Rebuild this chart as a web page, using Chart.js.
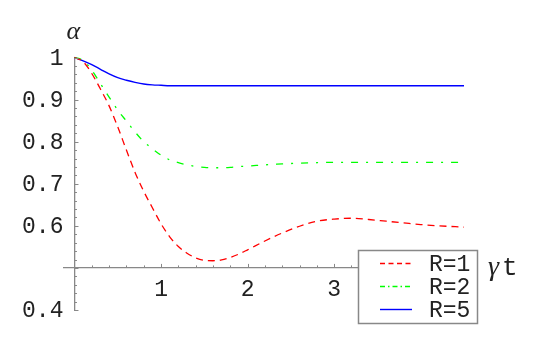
<!DOCTYPE html>
<html>
<head>
<meta charset="utf-8">
<script src="https://cdn.jsdelivr.net/npm/chart.js@4"></script>
<style>
  html, body { margin: 0; padding: 0; background: #fff; }
  #wrap { width: 554px; height: 342px; position: relative; }
</style>
</head>
<body>
<div id="wrap"><canvas id="chart"></canvas></div>
<script>
// time axis (gamma t) and the three curves
const tValues = [0, 0.1, 0.2, 0.3, 0.4, 0.5, 0.6, 0.7, 0.8, 0.9, 1.0, 1.1, 1.2, 1.3, 1.4, 1.5, 1.6, 1.7, 1.8, 1.9, 2.0, 2.2, 2.4, 2.6, 2.8, 3.0, 3.2, 3.4, 3.6, 3.8, 4.0, 4.2, 4.4, 4.5];
const alphaR1 = [1, 0.99, 0.962, 0.925, 0.885, 0.835, 0.78, 0.727, 0.682, 0.643, 0.605, 0.574, 0.551, 0.535, 0.524, 0.518, 0.517, 0.519, 0.525, 0.533, 0.543, 0.564, 0.583, 0.599, 0.611, 0.616, 0.618, 0.615, 0.611, 0.607, 0.603, 0.600, 0.598, 0.597];
const alphaR2 = [1, 0.993, 0.97, 0.938, 0.906, 0.875, 0.849, 0.823, 0.8, 0.783, 0.768, 0.757, 0.75, 0.745, 0.741, 0.739, 0.738, 0.738, 0.739, 0.741, 0.742, 0.745, 0.747, 0.749, 0.75, 0.751, 0.751, 0.751, 0.751, 0.751, 0.751, 0.751, 0.751, 0.751];
const alphaR5 = [1, 0.992, 0.983, 0.972, 0.961, 0.952, 0.946, 0.941, 0.937, 0.935, 0.934, 0.933, 0.933, 0.933, 0.933, 0.933, 0.933, 0.933, 0.933, 0.933, 0.933, 0.933, 0.933, 0.933, 0.933, 0.933, 0.933, 0.933, 0.933, 0.933, 0.933, 0.933, 0.933, 0.933];
const seriesLabels = ['R=1', 'R=2', 'R=5'];
const xTickValues = [1, 2, 3, 4];
const yTickValues = [0.4, 0.6, 0.7, 0.8, 0.9, 1];

const axisColor = '#888888';
const textColor = '#222';
const tickFont = { family: 'Liberation Mono', size: 23 };

function toPoints(ys) {
  return tValues.map((t, i) => ({ x: t, y: ys[i] }));
}

function yLabel(v) {
  return v === 1 ? '1' : v.toFixed(1);
}

// Mathematica style tick marks pointing into the plot, plus the y labels
const tickMarks = {
  id: 'tickMarks',
  afterDraw(chart) {
    const { ctx, scales: { x, y } } = chart;
    const x0 = x.getPixelForValue(0);
    const y0 = y.getPixelForValue(0.5);
    ctx.save();
    ctx.strokeStyle = axisColor;
    ctx.lineWidth = 1;
    for (let i = 1; i <= 22; i++) {
      const px = Math.round(x.getPixelForValue(i * 0.2)) + 0.5;
      const len = (i % 5 === 0) ? 4 : 2.5;
      ctx.beginPath();
      ctx.moveTo(px, y0);
      ctx.lineTo(px, y0 - len);
      ctx.stroke();
    }
    for (let i = 0; i <= 30; i++) {
      const py = Math.round(y.getPixelForValue(0.4 + i * 0.02)) + 0.5;
      const len = (i % 5 === 0) ? 4 : 2.5;
      ctx.beginPath();
      ctx.moveTo(x0, py);
      ctx.lineTo(x0 + len, py);
      ctx.stroke();
    }
    ctx.fillStyle = textColor;
    ctx.font = tickFont.size + 'px "' + tickFont.family + '"';
    ctx.textAlign = 'right';
    ctx.textBaseline = 'middle';
    y.ticks.forEach(t => {
      ctx.fillText(yLabel(t.value), x0 - 11, y.getPixelForValue(t.value) + 1);
    });
    ctx.restore();
  }
};

// axis names and the boxed legend
const extras = {
  id: 'extras',
  afterDraw(chart) {
    const { ctx, scales: { x, y } } = chart;
    ctx.save();
    ctx.fillStyle = textColor;
    ctx.textBaseline = 'alphabetic';
    ctx.font = 'italic 26px "Liberation Serif"';
    ctx.fillText('α', x.getPixelForValue(0) - 8, y.getPixelForValue(1) - 19);
    ctx.font = 'italic 28px "Liberation Serif"';
    ctx.fillText('γ', 488, y.getPixelForValue(0.5) + 7);
    ctx.font = '26px "Liberation Mono"';
    ctx.fillText('t', 502, y.getPixelForValue(0.5) + 7);

    // legend box
    const bx = 358.5, by = 250.5, bw = 119, bh = 73;
    ctx.fillStyle = '#fff';
    ctx.fillRect(bx, by, bw, bh);
    ctx.strokeStyle = '#888';
    ctx.lineWidth = 1.5;
    ctx.strokeRect(bx, by, bw, bh);
    chart.data.datasets.forEach((ds, i) => {
      const ry = 263.5 + i * 23;
      ctx.strokeStyle = ds.borderColor;
      ctx.lineWidth = ds.borderWidth;
      ctx.setLineDash(ds.legendDash || []);
      ctx.beginPath();
      ctx.moveTo(380, ry);
      ctx.lineTo(412, ry);
      ctx.stroke();
      ctx.setLineDash([]);
      ctx.fillStyle = textColor;
      ctx.font = '23px "Liberation Mono"';
      ctx.textBaseline = 'middle';
      ctx.fillText(ds.label, 429, ry + 1);
    });
    ctx.restore();
  }
};

new Chart(document.getElementById('chart'), {
  type: 'line',
  data: {
    datasets: [
      {
        label: seriesLabels[0],
        data: toPoints(alphaR1),
        borderColor: '#ff0000',
        borderWidth: 1.3,
        borderDash: [7, 5],
        legendDash: [5, 3.5],
      },
      {
        label: seriesLabels[1],
        data: toPoints(alphaR2),
        borderColor: '#00ff00',
        borderWidth: 1.3,
        borderDash: [7, 8, 2, 8],
        legendDash: [5, 3, 1.5, 3],
      },
      {
        label: seriesLabels[2],
        data: toPoints(alphaR5),
        borderColor: '#0000ff',
        borderWidth: 1.4,
        legendDash: [],
      },
    ],
  },
  options: {
    responsive: true,
    maintainAspectRatio: false,
    animation: false,
    layout: { padding: { left: 64, right: 90, top: 57.5, bottom: 32 } },
    elements: {
      point: { radius: 0 },
      line: { cubicInterpolationMode: 'monotone', fill: false },
    },
    datasets: { line: { clip: false } },
    plugins: {
      legend: { display: false },
      tooltip: { enabled: false },
    },
    scales: {
      x: {
        type: 'linear',
        min: -0.121,
        max: 4.5,
        position: { y: 0.5 },
        afterBuildTicks: (s) => { s.ticks = xTickValues.map(v => ({ value: v })); },
        grid: { drawOnChartArea: false, drawTicks: false },
        border: { display: true, color: axisColor, width: 1.3 },
        ticks: {
          font: tickFont,
          color: textColor,
          padding: 8,
          maxRotation: 0,
          callback: (v) => String(v),
        },
      },
      y: {
        type: 'linear',
        min: 0.4,
        max: 1.0,
        position: { x: 0 },
        afterBuildTicks: (s) => { s.ticks = yTickValues.map(v => ({ value: v })); },
        grid: { drawOnChartArea: false, drawTicks: false },
        border: { display: true, color: axisColor, width: 1.3 },
        ticks: { display: false },
      },
    },
  },
  plugins: [tickMarks, extras],
});
</script>
</body>
</html>
